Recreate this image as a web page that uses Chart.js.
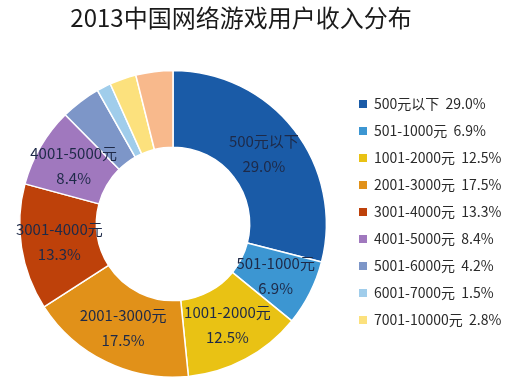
<!DOCTYPE html>
<html>
<head>
<meta charset="utf-8">
<script src="https://cdn.jsdelivr.net/npm/chart.js@4/dist/chart.umd.min.js"></script>
<style>
  html, body { margin: 0; padding: 0; background: #fff; }
  #wrap { width: 510px; height: 385px; }
</style>
</head>
<body>
<div id="wrap"><canvas id="pie" width="510" height="385"></canvas></div>
<script>
// income ranges and their share (%)
const labels = ['500元以下', '501-1000元', '1001-2000元', '2001-3000元', '3001-4000元',
  '4001-5000元', '5001-6000元', '6001-7000元', '7001-10000元', '10000元以上'];
const values = [29.0, 6.9, 12.5, 17.5, 13.3, 8.4, 4.2, 1.5, 2.8, 3.9];
const colors = ['#1a5ba7', '#3c96d2', '#e9c214', '#e19119', '#be410a',
  '#a078be', '#7d96c8', '#a0cdeb', '#fce17d', '#f8b98c'];
const legendCount = 9; // last entry is hidden under the watermark in the original

const FONT = "'Noto Sans CJK SC', 'Noto Sans', sans-serif";

// draw name + percent inside the bigger slices
const sliceLabels = {
  id: 'sliceLabels',
  afterDatasetsDraw(chart) {
    const ctx = chart.ctx;
    const meta = chart.getDatasetMeta(0);
    ctx.save();
    ctx.font = '15px ' + FONT;
    ctx.fillStyle = '#1e2a48';
    ctx.textAlign = 'center';
    ctx.textBaseline = 'middle';
    meta.data.forEach((arc, i) => {
      if (values[i] < 5) return;
      const p = arc.tooltipPosition();
      ctx.fillText(labels[i], p.x, p.y - 12.5);
      ctx.fillText(values[i].toFixed(1) + '%', p.x, p.y + 12.5);
    });
    ctx.restore();
  }
};

// fixed legend width, legend moved down a bit, title shifted left like the original
const boxTweaks = {
  id: 'boxTweaks',
  beforeInit(chart) {
    const fit = chart.legend.fit;
    chart.legend.fit = function () {
      fit.bind(this)();
      this.width = 164;
    };
  },
  afterLayout(chart) {
    chart.legend.top = 84;
    chart.legend.bottom = 385;
    chart.legend.height = 301;
    chart.titleBlock.right = 482;
    chart.titleBlock.width = 482;
  }
};

new Chart(document.getElementById('pie'), {
  type: 'doughnut',
  data: {
    labels: labels,
    datasets: [{
      data: values,
      backgroundColor: colors,
      borderColor: '#fff',
      borderWidth: 1.5
    }]
  },
  options: {
    responsive: false,
    animation: false,
    cutout: '50%',
    layout: { padding: { top: 0, left: 0, right: 0, bottom: 7 } },
    plugins: {
      tooltip: { enabled: false },
      title: {
        display: true,
        text: '2013中国网络游戏用户收入分布',
        color: '#1a1a1a',
        font: { family: FONT, size: 24, weight: 'normal' },
        padding: { top: 3, bottom: 38 }
      },
      legend: {
        position: 'right',
        align: 'start',
        labels: {
          boxWidth: 8,
          boxHeight: 8,
          padding: 13,
          color: '#2a2a2a',
          font: { family: FONT, size: 14 },
          generateLabels(chart) {
            const items = Chart.overrides.doughnut.plugins.legend.labels.generateLabels(chart);
            return items.slice(0, legendCount).map((it, i) => {
              it.text = labels[i] + '  ' + values[i].toFixed(1) + '%';
              it.lineWidth = 0;
              return it;
            });
          }
        }
      }
    }
  },
  plugins: [sliceLabels, boxTweaks]
});
</script>
</body>
</html>
